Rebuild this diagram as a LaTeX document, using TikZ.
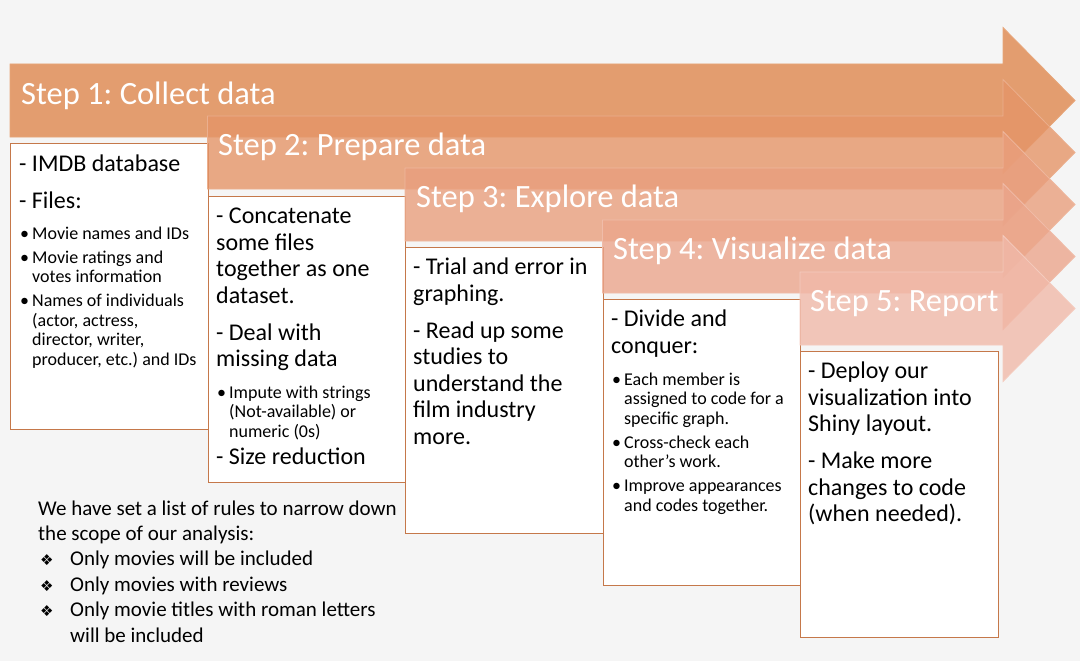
\documentclass[tikz,border=0pt]{standalone}
\usepackage{fontspec}
\setmainfont{Carlito}
\newfontfamily\dingfont{DejaVu Sans}
\usetikzlibrary{calc}
\usetikzlibrary{positioning}
\frenchspacing

\definecolor{bgGray}{HTML}{F5F5F5}
\definecolor{stepA}{HTML}{DF884E}
\definecolor{stepB}{HTML}{E59568}
\definecolor{stepC}{HTML}{E99F7E}
\definecolor{stepD}{HTML}{EBA68C}
\definecolor{stepE}{HTML}{F1B9A9}
\definecolor{boxLine}{HTML}{C5784A}

\newcommand\bigtxt{\fontsize{24}{26.5}\selectfont}
\newcommand\smalltxt{\fontsize{18}{19.5}\selectfont}
% one line of a box, #1 = distance from the baseline above
\newcommand\mline[2][26.5pt]{\baselineskip=#1\hbox{\bigtxt #2}}
\newcommand\bline[2][24pt]{\baselineskip=#1\hbox{\smalltxt\makebox[13pt][l]{\hspace{1pt}\textbullet}#2}}
\newcommand\sline[2][19.5pt]{\baselineskip=#1\hbox{\smalltxt\hspace{13pt}#2}}
\newcommand\nline[2][25.4pt]{\baselineskip=#1\hbox{#2}}
\newcommand\rline[2][25.4pt]{\baselineskip=#1\hbox{\makebox[32pt][l]{\hspace{2pt}{\dingfont\fontsize{15}{15}\selectfont ❖}}#2}}
\newcommand\lines[1]{\vtop{\lineskiplimit=-\maxdimen #1}}

\begin{document}
\begin{tikzpicture}[x=1pt, y=-1pt,
    stepbar/.style={fill=#1, fill opacity=0.8, draw=#1!75!white, line width=0.8pt},
    steptitle/.style={anchor=base west, inner sep=0pt, text=white, font=\fontsize{32.5}{39}\selectfont},
    stepbox/.style={draw=boxLine, line width=1.4pt, fill=white, anchor=north west, minimum width=197.5pt, minimum height=286pt, inner sep=0pt},
    boxtext/.style={anchor=base west, inner sep=0pt},
    notetext/.style={anchor=base west, inner sep=0pt, font=\fontsize{21}{25.4}\selectfont}]
    \useasboundingbox[fill=bgGray] (0,0) rectangle (1080,661);

    \path[stepbar=stepA] (10,64) -- (1003,64) -- (1003,27.5) -- (1075,100.5) -- (1003,173.5) -- (1003,137) -- (10,137) -- cycle;
    \node[steptitle] (title1) at (21,105) {Step 1: Collect data};
    \node[stepbox] (box1) at (10,143) {};
    \node[boxtext] (text1) at ($(box1.north west)+(9,28.5)$) {\lines{
        \mline{- IMDB database}
        \mline[37pt]{- Files:}
        \bline[31pt]{Movie names and IDs}
        \bline{Movie ratings and}
        \sline{votes information}
        \bline{Names of individuals}
        \sline{(actor, actress,}
        \sline{director, writer,}
        \sline{producer, etc.) and IDs}}};

    \path[stepbar=stepB] (207.5,116) -- (1003,116) -- (1003,79.5) -- (1075,152.5) -- (1003,225.5) -- (1003,189) -- (207.5,189) -- cycle;
    \node[steptitle] (title2) at (218,155) {Step 2: Prepare data};
    \node[stepbox] (box2) at (207.5,196) {};
    \node[boxtext] (text2) at ($(box2.north west)+(8.5,27.5)$) {\lines{
        \mline{- Concatenate}
        \mline{some files}
        \mline{together as one}
        \mline{dataset.}
        \mline[37pt]{- Deal with}
        \mline{missing data}
        \bline[32pt]{Impute with strings}
        \sline{(Not-available) or}
        \sline{numeric (0s)}
        \mline[27pt]{- Size reduction}}};

    \path[stepbar=stepC] (405,168) -- (1003,168) -- (1003,131.5) -- (1075,204.5) -- (1003,277.5) -- (1003,241) -- (405,241) -- cycle;
    \node[steptitle] (title3) at (416,207) {Step 3: Explore data};
    \node[stepbox] (box3) at (405,247) {};
    \node[boxtext] (text3) at ($(box3.north west)+(8,27.5)$) {\lines{
        \mline{- Trial and error in}
        \mline{graphing.}
        \mline[37pt]{- Read up some}
        \mline{studies to}
        \mline{understand the}
        \mline{film industry}
        \mline{more.}}};

    \path[stepbar=stepD] (602.5,220) -- (1003,220) -- (1003,183.5) -- (1075,256.5) -- (1003,329.5) -- (1003,293) -- (602.5,293) -- cycle;
    \node[steptitle] (title4) at (613,259) {Step 4: Visualize data};
    \node[stepbox] (box4) at (602.5,299) {};
    \node[boxtext] (text4) at ($(box4.north west)+(8.5,27.5)$) {\lines{
        \mline{- Divide and}
        \mline{conquer:}
        \bline[32pt]{Each member is}
        \sline{assigned to code for a}
        \sline{specific graph.}
        \bline{Cross-check each}
        \sline{other’s work.}
        \bline{Improve appearances}
        \sline{and codes together.}}};

    \path[stepbar=stepE] (800,272) -- (1003,272) -- (1003,235.5) -- (1075,308.5) -- (1003,381.5) -- (1003,345) -- (800,345) -- cycle;
    \node[steptitle] (title5) at (810,311) {Step 5: Report};
    \node[stepbox] (box5) at (800,351) {};
    \node[boxtext] (text5) at ($(box5.north west)+(8,27.5)$) {\lines{
        \mline{- Deploy our}
        \mline{visualization into}
        \mline{Shiny layout.}
        \mline[37pt]{- Make more}
        \mline{changes to code}
        \mline{(when needed).}}};

    \node[notetext] (rules) at (38,515) {\lines{
        \nline{We have set a list of rules to narrow down}
        \nline{the scope of our analysis:}
        \rline{Only movies will be included}
        \rline{Only movies with reviews}
        \rline{Only movie titles with roman letters}
        \nline{\hspace{32pt}will be included}}};
\end{tikzpicture}
\end{document}
